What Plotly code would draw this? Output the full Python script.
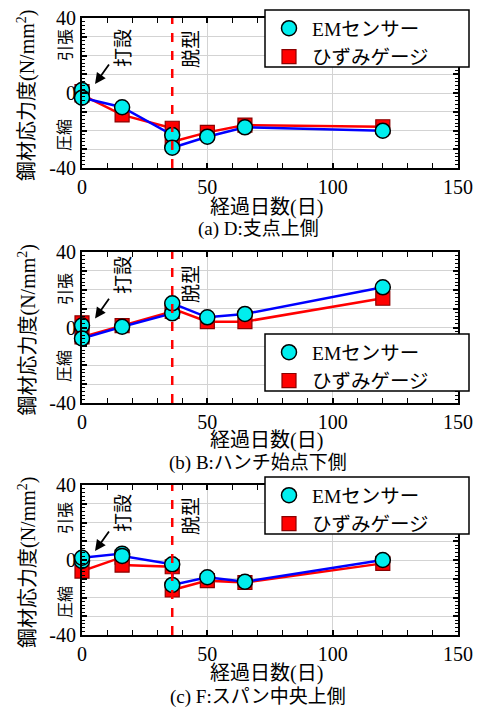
import plotly.graph_objects as go

# ---------------- data ----------------
days_a_em = [0, 0, 16, 36, 36, 50, 65, 120]
em_a = [1.6, -2.5, -7.6, -22.4, -29.2, -23.3, -18.3, -20.1]
days_a_sg = [0, 0, 16, 36, 36, 50, 65, 120]
sg_a = [0.7, -1.0, -11.7, -18.8, -26.0, -21.0, -17.1, -18.0]

days_b_em = [0, 0, 16, 36, 36, 50, 65, 120]
em_b = [1.0, -5.8, 0.4, 7.5, 12.8, 5.4, 7.2, 21.3]
days_b_sg = [0, 0, 16, 36, 36, 50, 65, 120]
sg_b = [2.5, -5.0, 1.0, 8.5, 10.0, 3.1, 3.1, 15.5]

days_c_em = [0, 0, 16, 16, 36, 36, 50, 65, 120]
em_c = [-0.5, 1.2, 3.4, 2.2, -2.3, -13.3, -9.2, -11.6, 0.0]
days_c_sg = [0, 16, 16, 36, 36, 50, 65, 120]
sg_c = [-5.9, 1.5, -2.7, -3.6, -16.0, -11.0, -12.0, -1.8]

demold_day = [36]
series_names = ["EMセンサー", "ひずみゲージ"]
captions = ["(a) D:支点上側", "(b) B:ハンチ始点下側", "(c) F:スパン中央上側"]
x_title = "経過日数(日)"
y_title = "鋼材応力度(N/mm<sup>2</sup>)"
y_ticks = [-40, -30, -20, -10, 0, 10, 20, 30, 40]
y_ticktext = ["-40", "", "", "", "0", "", "", "", "40"]
x_ticks = [0, 50, 100, 150]

panels = [
    (days_a_em, em_a, days_a_sg, sg_a),
    (days_b_em, em_b, days_b_sg, sg_b),
    (days_c_em, em_c, days_c_sg, sg_c),
]

# ---------------- layout geometry (screen pixels) ----------------
W, H = 481, 708
def px(x):
    return x / W
def py(y):
    return 1 - y / H

plot_left, plot_right = 82, 458
plot_tops = [18, 252, 485]
plot_bots = [168, 403, 635]
legend_box_x = (265, 469)
legend_box_y = [(10, 67), (334, 391), (477, 534)]
tension_y = [45, 289, 518]
comp_y = [135, 366, 602]
dasetsu_y = [48, 275, 513]
datsukei_y = [49, 284, 516]
xtitle_y = [208, 440, 673]
caption_y = [229, 463, 697]

FONT = "Liberation Serif, Noto Sans CJK JP"

fig = go.Figure()
layout = dict(
    template="none",
    width=W, height=H,
    margin=dict(l=0, r=0, t=0, b=0, autoexpand=False),
    paper_bgcolor="white", plot_bgcolor="white",
    font=dict(family=FONT, size=20, color="black"),
    showlegend=True,
)
annotations = []
shapes = []

def note(text, x, y, size, angle=0):
    return dict(text=text, x=px(x), y=py(y), xref="paper", yref="paper",
                xanchor="center", yanchor="middle", textangle=angle,
                showarrow=False, font=dict(size=size, family=FONT))

for i, (dx_em, y_em, dx_sg, y_sg) in enumerate(panels):
    n = "" if i == 0 else str(i + 1)
    xa, ya = "x" + n, "y" + n
    leg = "legend" + n
    # strain gauge (drawn first)
    fig.add_trace(go.Scatter(
        x=dx_sg, y=y_sg, mode="lines", showlegend=False, hoverinfo="skip",
        xaxis=xa, yaxis=ya, cliponaxis=False, legend=leg,
        line=dict(color="#FF0000", width=2.5),
    ))
    fig.add_trace(go.Scatter(
        x=dx_sg, y=y_sg, name=series_names[1], mode="markers",
        xaxis=xa, yaxis=ya, legend=leg, legendrank=2, cliponaxis=False,
        marker=dict(symbol="square", size=14, color="#FF0000",
                    line=dict(color="#8B0000", width=1.2)),
    ))
    # EM sensor
    fig.add_trace(go.Scatter(
        x=dx_em, y=y_em, mode="lines", showlegend=False, hoverinfo="skip",
        xaxis=xa, yaxis=ya, cliponaxis=False, legend=leg,
        line=dict(color="#0000FF", width=2.5),
    ))
    fig.add_trace(go.Scatter(
        x=dx_em, y=y_em, name=series_names[0], mode="markers",
        xaxis=xa, yaxis=ya, legend=leg, legendrank=1, cliponaxis=False,
        marker=dict(symbol="circle", size=15, color="#00EEEE",
                    line=dict(color="black", width=1.5)),
    ))
    top, bot = plot_tops[i], plot_bots[i]
    layout["xaxis" + n] = dict(
        domain=[px(plot_left), px(plot_right)], anchor=ya, automargin=False,
        range=[0, 150], tickvals=x_ticks, ticks="inside", ticklen=5,
        tickwidth=1.5, tickcolor="black", mirror="ticks", showline=True,
        linecolor="black", linewidth=2, showgrid=True, gridcolor="#d3d3d3",
        gridwidth=1, zeroline=False, tickfont=dict(family=FONT, size=20),
        minor=dict(dtick=10, ticks="inside", ticklen=5, tickwidth=1.2,
                   showgrid=False, tickcolor="black"),
    )
    layout["yaxis" + n] = dict(
        domain=[py(bot), py(top)], anchor=xa, automargin=False,
        range=[-40, 40], tickvals=y_ticks, ticktext=y_ticktext,
        ticks="inside", ticklen=5, tickwidth=1.5, tickcolor="black",
        mirror="ticks", showline=True, linecolor="black", linewidth=2,
        showgrid=True, gridcolor="#d3d3d3", gridwidth=1, zeroline=False,
        tickfont=dict(family=FONT, size=20),
        minor=dict(dtick=2, ticks="inside", ticklen=3, tickwidth=1,
                   showgrid=False, tickcolor="black"),
    )
    by0, by1 = legend_box_y[i]
    # legend frame
    shapes.append(dict(
        type="rect", xref="paper", yref="paper",
        x0=px(legend_box_x[0]), x1=px(legend_box_x[1]),
        y0=py(by1), y1=py(by0), layer="above",
        fillcolor="white", line=dict(color="black", width=1.5),
    ))
    layout[leg] = dict(
        x=px(legend_box_x[0] + 1), y=py(by0 - 1), xanchor="left", yanchor="top",
        bgcolor="rgba(0,0,0,0)", borderwidth=0, traceorder="normal",
        font=dict(family=FONT, size=19.5), itemwidth=36, tracegroupgap=0,
    )
    # demold vertical dashed line
    shapes.append(dict(
        type="line", xref=xa, yref=ya + " domain", x0=demold_day[0],
        x1=demold_day[0], y0=0, y1=1, layer="above",
        line=dict(color="#FF0000", width=2.5, dash="dash"),
    ))
    # labels
    annotations += [
        note("引張", 65, tension_y[i], 16, -90),
        note("圧縮", 65, comp_y[i], 16, -90),
        note("打設", 123, dasetsu_y[i], 19, -90),
        note("脱型", 191, datsukei_y[i], 19, -90),
        dict(text="", x=5.2, y=4.8, xref=xa, yref=ya, ax=11.2, ay=16,
             axref=xa, ayref=ya, showarrow=True, arrowhead=2, arrowsize=1.2,
             arrowwidth=1.8, arrowcolor="black"),
        note(y_title, 27, (top + bot) / 2 + 3, 20, -90),
        note(x_title, 266, xtitle_y[i], 20),
        note(captions[i], 258, caption_y[i], 19),
    ]

layout["annotations"] = annotations
layout["shapes"] = shapes
fig.update_layout(**layout)
fig.write_html(
    "out.html",
    config={"displayModeBar": False},
    post_script="document.body.style.margin='0px';"
                "document.body.style.overflow='hidden';",
)
